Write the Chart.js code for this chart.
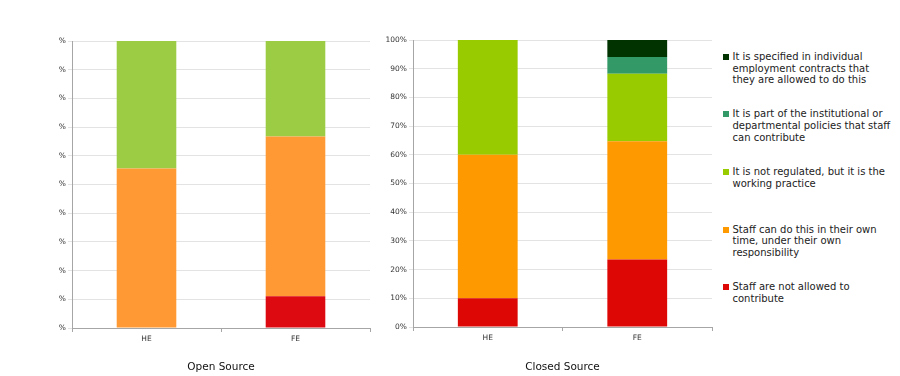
<!DOCTYPE html>
<html>
<head>
<meta charset="utf-8">
<script src="https://cdn.jsdelivr.net/npm/chart.js@4"></script>
<style>
  body { margin: 0; background: #fff; width: 900px; height: 376px; overflow: hidden; position: relative;
         font-family: "DejaVu Sans", Verdana, sans-serif; }
  canvas { position: absolute; top: 0; }
  #open { left: 0; }
  #closed { left: 375px; }
  #legend { position: absolute; left: 722px; top: 0; font-size: 10px; color: #222; }
  .item { position: absolute; left: 0; white-space: nowrap; line-height: 11.7px; }
  .box { position: absolute; left: 1px; top: 3px; width: 6px; height: 6px; }
  .txt { position: absolute; left: 10.5px; top: 0; }
</style>
</head>
<body>
<canvas id="open" width="375" height="376"></canvas>
<canvas id="closed" width="345" height="376"></canvas>
<div id="legend"></div>
<script>
// categories and series (bottom to top of the stack)
const categories = ["HE", "FE"];
const seriesNames = [
  "Staff are not allowed to contribute",
  "Staff can do this in their own time, under their own responsibility",
  "It is not regulated, but it is the working practice",
  "It is part of the institutional or departmental policies that staff can contribute",
  "It is specified in individual employment contracts that they are allowed to do this"
];
// legend lines as in the picture
const legendLines = [
  ["Staff are not allowed to", "contribute"],
  ["Staff can do this in their own", "time, under their own", "responsibility"],
  ["It is not regulated, but it is the", "working practice"],
  ["It is part of the institutional or", "departmental policies that staff", "can contribute"],
  ["It is specified in individual", "employment contracts that", "they are allowed to do this"]
];

// percent values, [HE, FE]
const openNotAllowed = [0, 11.1];
const openOwnTime = [55.6, 55.6];
const openNotRegulated = [44.4, 33.3];
const openPolicies = [0, 0];
const openContracts = [0, 0];

const closedNotAllowed = [10, 23.5];
const closedOwnTime = [50, 41.2];
const closedNotRegulated = [40, 23.5];
const closedPolicies = [0, 5.9];
const closedContracts = [0, 5.9];

const yTicks = [0, 10, 20, 30, 40, 50, 60, 70, 80, 90, 100];

const openColors = ["#dd0a12", "#ff9933", "#9ccc44", "#339966", "#003300"];
const closedColors = ["#dd0806", "#ff9900", "#99cc00", "#339966", "#003300"];

function makeChart(id, title, values, colors, tickText, yWidth, padTop, padRight, xHeight) {
  new Chart(document.getElementById(id), {
    type: "bar",
    data: {
      labels: categories,
      datasets: values.map((v, i) => ({
        label: seriesNames[i],
        data: v,
        backgroundColor: colors[i],
        borderWidth: 0,
        barPercentage: 0.4,
        categoryPercentage: 1.0
      }))
    },
    options: {
      responsive: false,
      animation: false,
      layout: { padding: { top: padTop, right: padRight, left: 0, bottom: 0 } },
      plugins: { legend: { display: false }, tooltip: { enabled: false } },
      scales: {
        x: {
          stacked: true,
          grid: { drawOnChartArea: false, drawTicks: true, tickLength: 4, color: "#a6a6a6", offset: true },
          border: { color: "#a6a6a6" },
          ticks: { color: "#333", font: { family: "DejaVu Sans", size: 7.5 }, padding: 3 },
          title: { display: true, text: title, color: "#111",
                   font: { family: "DejaVu Sans", size: 10.5 }, padding: { top: 0, bottom: 2 } },
          afterFit: (s) => { s.height = xHeight; }
        },
        y: {
          stacked: true,
          min: 0,
          max: 100,
          afterBuildTicks: (s) => { s.ticks = yTicks.map((v) => ({ value: v })); },
          grid: { color: "#e3e3e3", tickLength: 4 },
          border: { color: "#a6a6a6" },
          ticks: { color: "#333", font: { family: "DejaVu Sans", size: 7.5 }, padding: 2,
                   callback: tickText },
          afterFit: (s) => { s.width = yWidth; }
        }
      }
    }
  });
}

makeChart("open", "Open Source",
  [openNotAllowed, openOwnTime, openNotRegulated, openPolicies, openContracts],
  openColors, () => "%", 72, 41, 5, 48);

makeChart("closed", "Closed Source",
  [closedNotAllowed, closedOwnTime, closedNotRegulated, closedPolicies, closedContracts],
  closedColors, (v) => v + "%", 38, 40, 8, 49);

// legend, top entry is the last series
const legend = document.getElementById("legend");
for (let i = seriesNames.length - 1; i >= 0; i--) {
  const row = seriesNames.length - 1 - i;
  const item = document.createElement("div");
  item.className = "item";
  item.style.top = (56.7 + row * 57.6 - 5.85) + "px";
  const box = document.createElement("div");
  box.className = "box";
  box.style.background = closedColors[i];
  const txt = document.createElement("div");
  txt.className = "txt";
  txt.innerHTML = legendLines[i].join("<br>");
  item.appendChild(box);
  item.appendChild(txt);
  legend.appendChild(item);
}
</script>
</body>
</html>
